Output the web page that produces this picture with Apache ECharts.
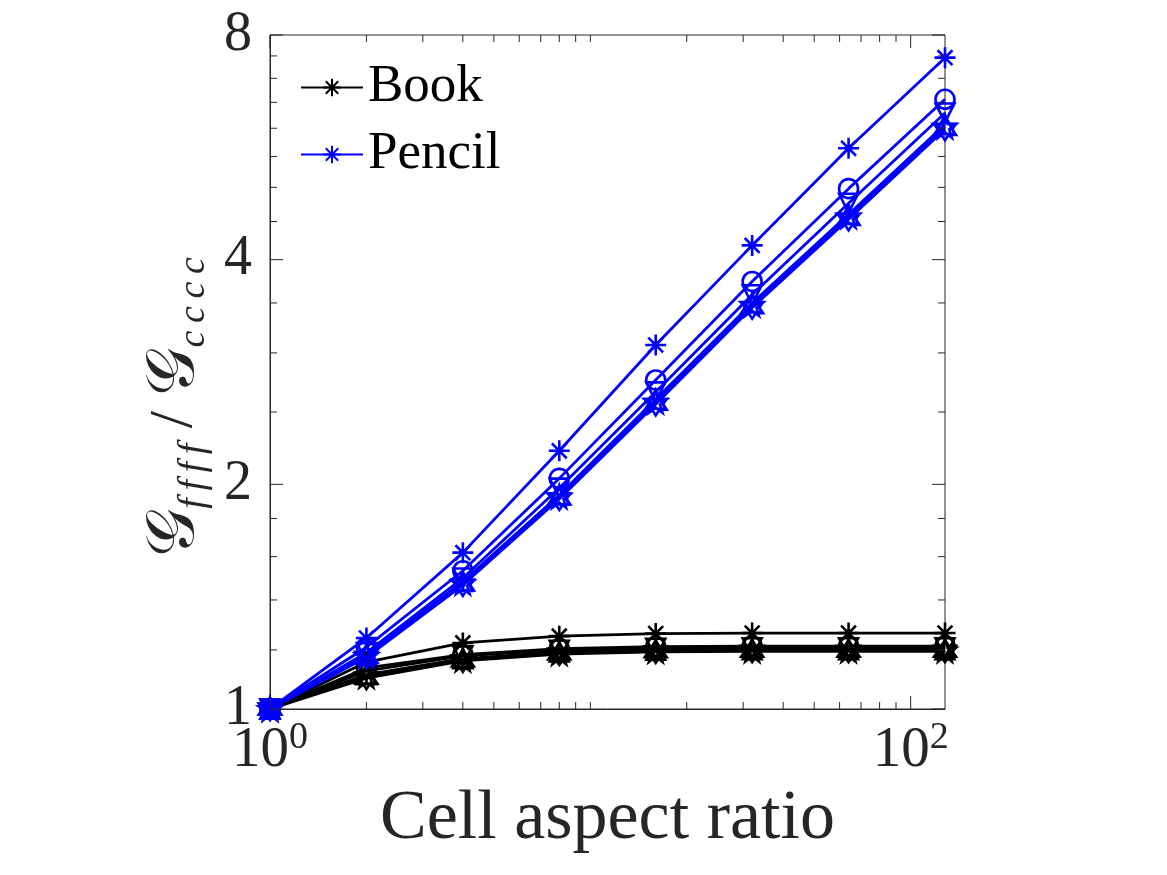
<!DOCTYPE html>
<html lang="en">
<head>
<meta charset="utf-8">
<title>Cell aspect ratio</title>
<script src="https://cdn.jsdelivr.net/npm/echarts@6/dist/echarts.min.js"></script>
<style>
  html, body { margin: 0; padding: 0; background: #fff; }
  #main { width: 1167px; height: 875px; }
</style>
</head>
<body>
<div id="main"></div>
<script>
var ratios = [1, 2, 4, 8, 16, 32, 64, 128];

var bookStar    = [1, 1.156, 1.226, 1.252, 1.262, 1.264, 1.264, 1.264];
var bookCircle  = [1, 1.135, 1.183, 1.205, 1.212, 1.214, 1.214, 1.214];
var bookTriDown = [1, 1.125, 1.178, 1.199, 1.206, 1.208, 1.208, 1.208];
var bookTriUp   = [1, 1.112, 1.168, 1.192, 1.199, 1.201, 1.201, 1.201];
var bookPent    = [1, 1.106, 1.164, 1.188, 1.196, 1.198, 1.198, 1.198];
var bookHex     = [1, 1.100, 1.160, 1.185, 1.193, 1.195, 1.195, 1.195];

var pencilStar    = [1, 1.245, 1.620, 2.218, 3.074, 4.18, 5.64, 7.46];
var pencilCircle  = [1, 1.210, 1.532, 2.037, 2.760, 3.74, 4.98, 6.56];
var pencilTriDown = [1, 1.190, 1.498, 1.977, 2.660, 3.59, 4.76, 6.29];
var pencilTriUp   = [1, 1.183, 1.482, 1.935, 2.600, 3.50, 4.60, 6.07];
var pencilPent    = [1, 1.178, 1.475, 1.925, 2.580, 3.48, 4.57, 6.03];
var pencilHex     = [1, 1.173, 1.466, 1.912, 2.560, 3.45, 4.53, 5.98];

// tick values (log axes, MATLAB style)
var xMajorTicks = [1, 100];
var xMinorTicks = [2, 3, 4, 5, 6, 7, 8, 9, 10, 20, 30, 40, 50, 60, 70, 80, 90];
var yMajorTicks = [1, 2, 4, 8];
var yMinorTicks = [1.2, 1.4, 1.6, 1.8, 2.5, 3, 3.5, 4.5, 5, 5.5, 6, 6.5, 7, 7.5];

var FONT = '"Liberation Serif", "DejaVu Serif", serif';
var AX = '#262626';

function starPath(n, inner) {
    var s = 'path://';
    for (var i = 0; i < 2 * n; i++) {
        var a = -Math.PI / 2 + i * Math.PI / n;
        var r = i % 2 ? inner : 1;
        s += (i ? 'L' : 'M') + (r * Math.cos(a)).toFixed(3) + ',' + (r * Math.sin(a)).toFixed(3);
    }
    return s + 'Z';
}
var ASTERISK = 'path://M0,-1L0,1M-1,0L1,0M-0.7071,-0.7071L0.7071,0.7071M-0.7071,0.7071L0.7071,-0.7071';
var PENT = starPath(5, 0.382);
var HEX = starPath(6, 0.577);

function line(name, ys, color, symbol, size, rot) {
    return {
        name: name, type: 'line', z: 3,
        data: ratios.map(function (x, i) { return [x, ys[i]]; }),
        symbol: symbol, symbolSize: size, symbolRotate: rot || 0,
        showAllSymbol: true,
        lineStyle: { color: color, width: 2.8 },
        itemStyle: { color: symbol === ASTERISK ? color : 'rgba(0,0,0,0)', borderColor: color, borderWidth: 2.6 },
        emphasis: { disabled: true }
    };
}

var myChart = echarts.init(document.getElementById('main'));

var tickSeriesX = {
    type: 'custom', silent: true, z: 5, clip: false,
    data: xMajorTicks.map(function (v) { return [v, 1, 1]; })
        .concat(xMinorTicks.map(function (v) { return [v, 1, 0]; })),
    renderItem: function (params, api) {
        var v = api.value(0), len = api.value(2) ? 13 : 7;
        var b = api.coord([v, 1]), t = api.coord([v, 8]);
        var st = { stroke: AX, lineWidth: 1 };
        return { type: 'group', children: [
            { type: 'line', shape: { x1: b[0], y1: b[1], x2: b[0], y2: b[1] - len }, style: st },
            { type: 'line', shape: { x1: t[0], y1: t[1], x2: t[0], y2: t[1] + len }, style: st }
        ] };
    }
};
var tickSeriesY = {
    type: 'custom', silent: true, z: 5, clip: false,
    data: yMajorTicks.map(function (v) { return [1, v, 1]; })
        .concat(yMinorTicks.map(function (v) { return [1, v, 0]; })),
    renderItem: function (params, api) {
        var v = api.value(1), len = api.value(2) ? 13 : 7;
        var l = api.coord([1, v]), r = api.coord([128, v]);
        var st = { stroke: AX, lineWidth: 1 };
        return { type: 'group', children: [
            { type: 'line', shape: { x1: l[0], y1: l[1], x2: l[0] + len, y2: l[1] }, style: st },
            { type: 'line', shape: { x1: r[0], y1: r[1], x2: r[0] - len, y2: r[1] }, style: st }
        ] };
    }
};

myChart.setOption({
    animation: false,
    backgroundColor: '#fff',
    grid: { left: 270, right: 222, top: 35, bottom: 166, show: true, borderColor: AX, borderWidth: 1 },
    legend: {
        data: ['Book', 'Pencil'],
        orient: 'vertical', left: 295, top: 56,
        itemWidth: 62, itemHeight: 22, itemGap: 14,
        textStyle: { fontFamily: FONT, fontSize: 53, color: '#000', padding: [0, 0, 0, 0] }
    },
    xAxis: {
        type: 'log', logBase: 10, min: 1, max: 128,
        splitLine: { show: false },
        axisTick: { show: false },
        axisLine: { lineStyle: { color: AX, width: 1 } },
        axisLabel: {
            margin: 10, showMaxLabel: false,
            formatter: function (v) {
                if (Math.abs(v - 1) < 1e-9) return '{b|10}{s|0}';
                if (Math.abs(v - 100) < 1e-6) return '{b|10}{s|2}';
                return '';
            },
            rich: {
                b: { fontFamily: FONT, fontSize: 57, color: AX, lineHeight: 64 },
                s: { fontFamily: FONT, fontSize: 38, color: AX, verticalAlign: 'top', lineHeight: 38 }
            }
        },
        name: 'Cell aspect ratio', nameLocation: 'middle', nameGap: 74,
        nameTextStyle: { fontFamily: FONT, fontSize: 70, color: AX }
    },
    yAxis: {
        type: 'log', logBase: 2, min: 1, max: 8,
        splitLine: { show: false },
        axisTick: { show: false },
        axisLine: { lineStyle: { color: AX, width: 1 } },
        axisLabel: { margin: 18, fontFamily: FONT, fontSize: 56, color: AX },
        name: '{g|𝒢}{s|f\u2009f\u2009f\u2009f}{n| / }{g|𝒢}{s|c\u2009c\u2009c\u2009c}', nameLocation: 'middle', nameRotate: 90, nameGap: 56,
        nameTextStyle: {
            padding: [0, 70, 0, 0],
            rich: {
                g: { fontFamily: FONT, fontSize: 68, color: AX, lineHeight: 76 },
                n: { fontFamily: FONT, fontSize: 62, color: AX, lineHeight: 76 },
                s: { fontFamily: FONT, fontSize: 38, fontStyle: 'italic', color: AX, verticalAlign: 'bottom', lineHeight: 38 }
            }
        }
    },
    series: [
        line('Book', bookStar, '#000', ASTERISK, 21),
        line('Book o', bookCircle, '#000', 'circle', 19),
        line('Book v', bookTriDown, '#000', 'triangle', 19, 180),
        line('Book ^', bookTriUp, '#000', 'triangle', 19),
        line('Book p', bookPent, '#000', PENT, 22),
        line('Book h', bookHex, '#000', HEX, 22),
        line('Pencil', pencilStar, '#0000ff', ASTERISK, 21),
        line('Pencil o', pencilCircle, '#0000ff', 'circle', 19),
        line('Pencil v', pencilTriDown, '#0000ff', 'triangle', 19, 180),
        line('Pencil ^', pencilTriUp, '#0000ff', 'triangle', 19),
        line('Pencil p', pencilPent, '#0000ff', PENT, 22),
        line('Pencil h', pencilHex, '#0000ff', HEX, 22),
        tickSeriesX,
        tickSeriesY
    ]
});
</script>
</body>
</html>
